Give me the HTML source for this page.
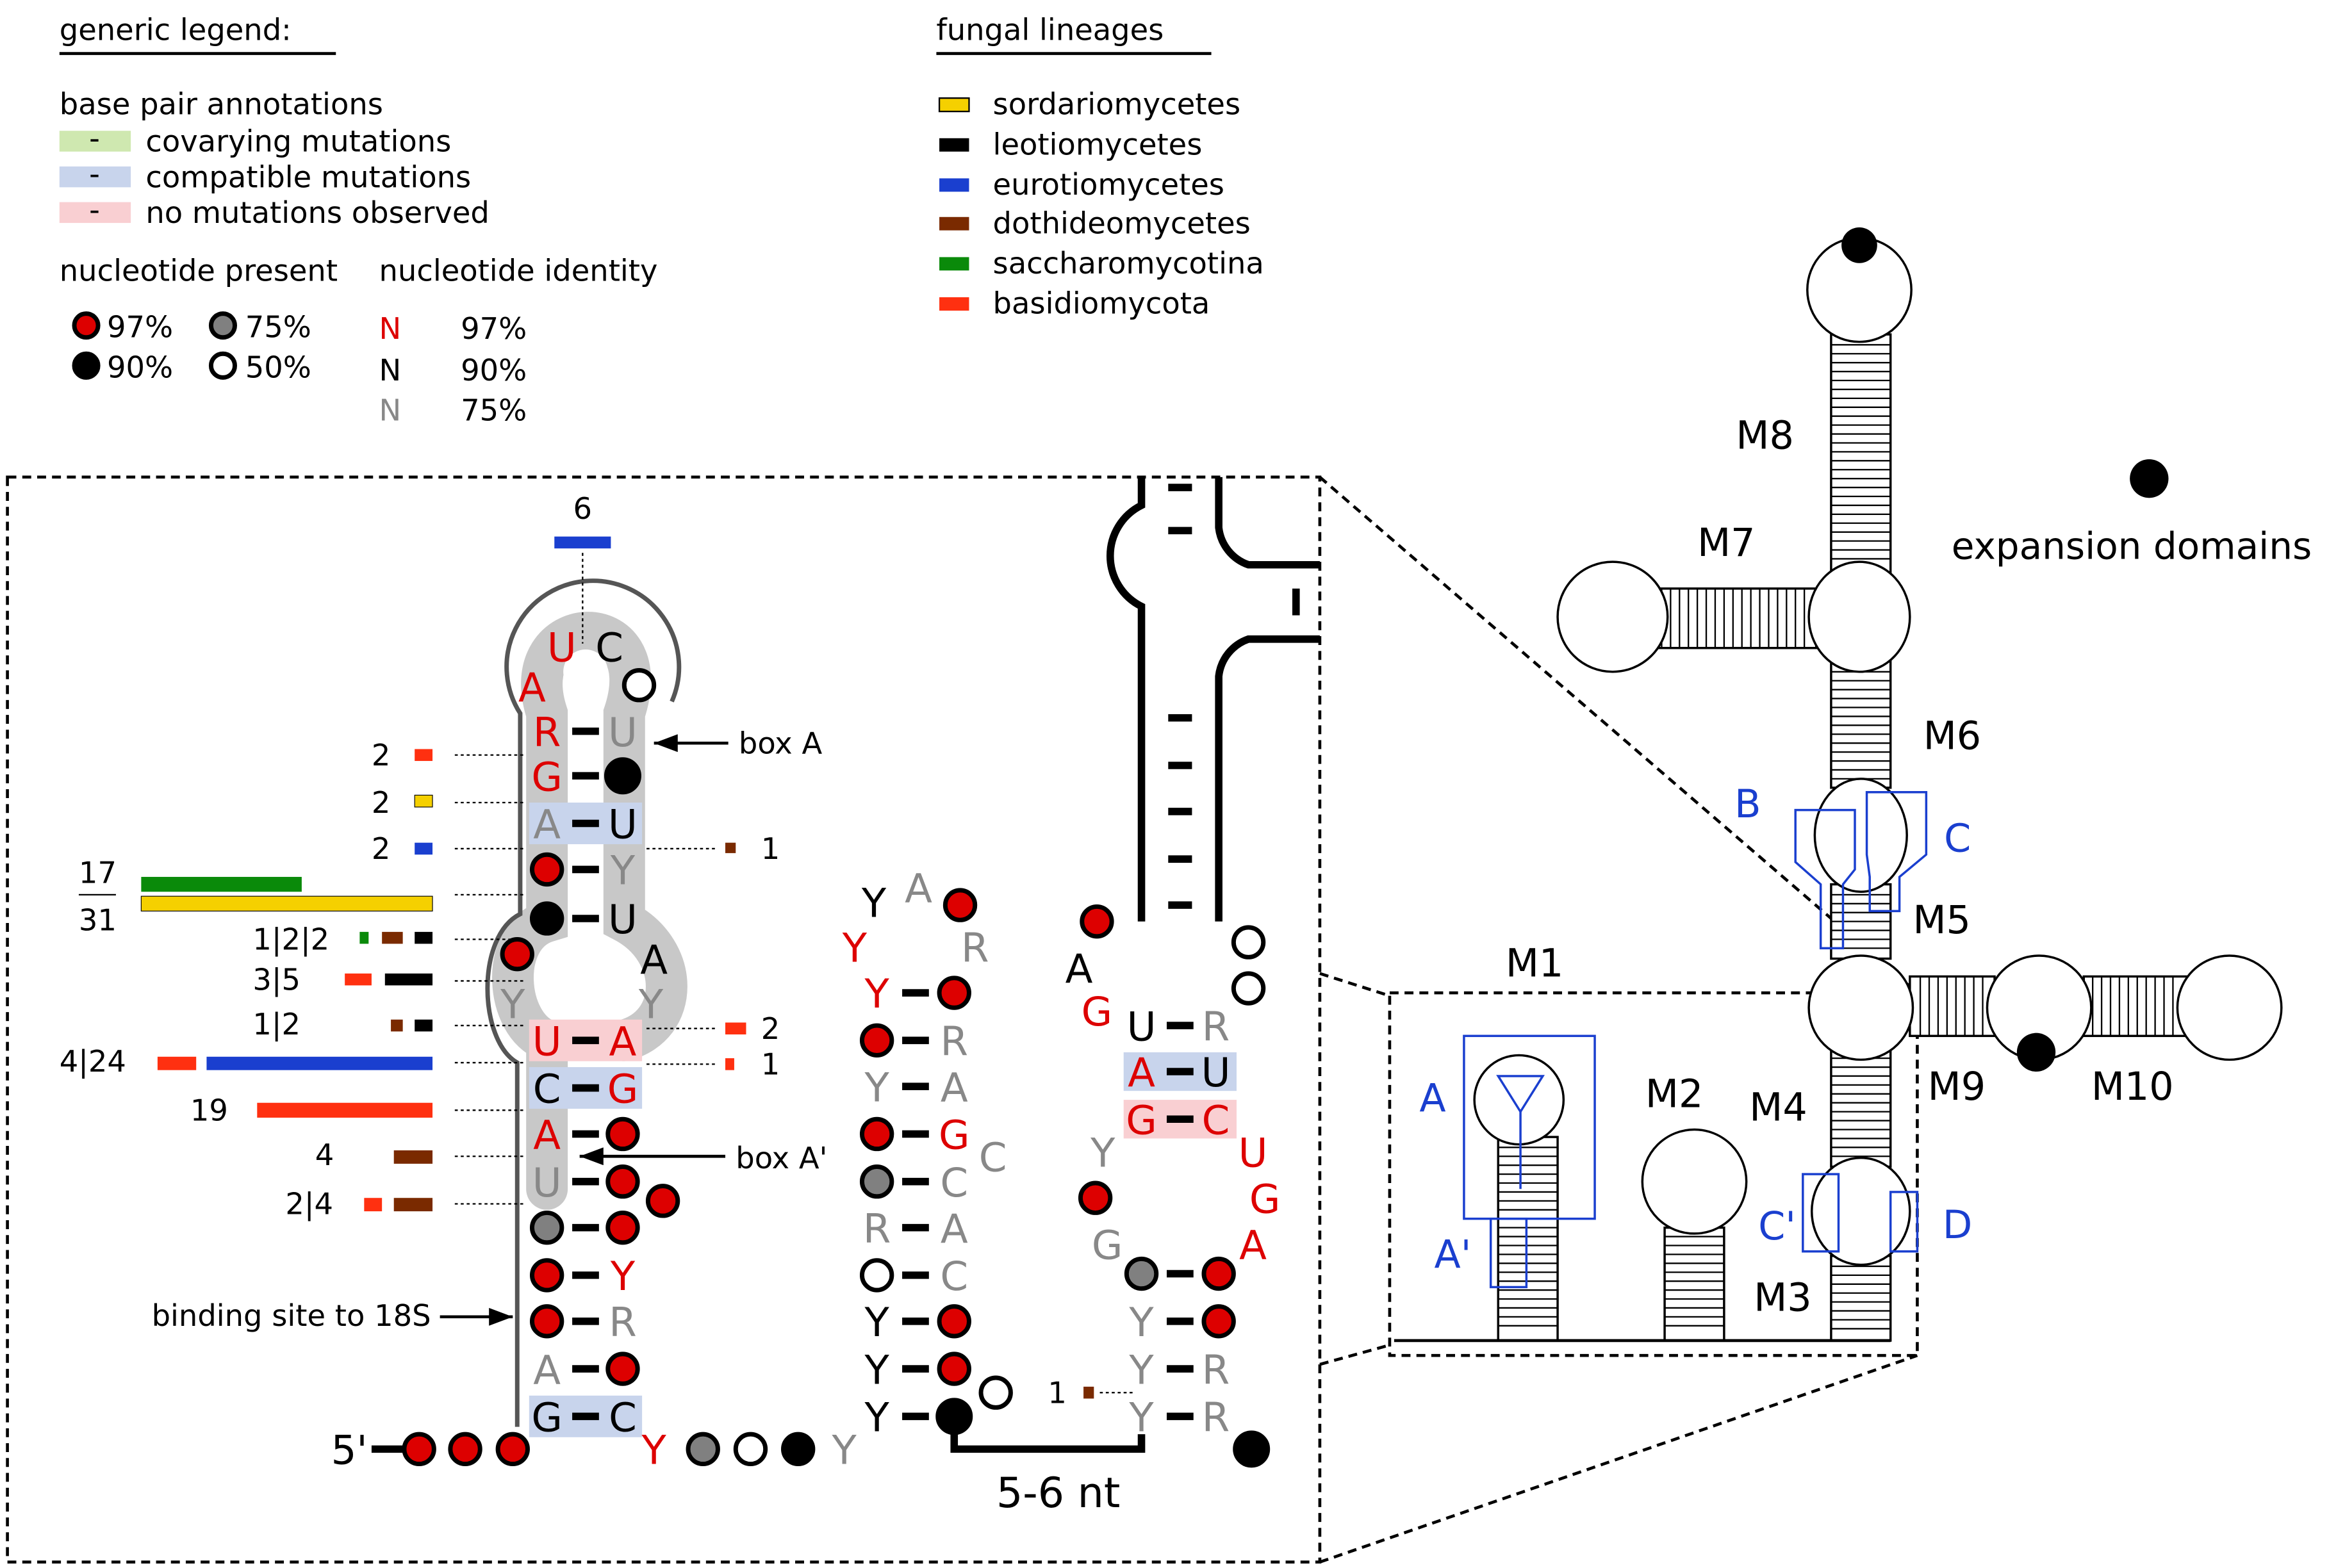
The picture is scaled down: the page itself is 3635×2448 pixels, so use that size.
<!DOCTYPE html>
<html><head><meta charset="utf-8"><style>
html,body{margin:0;padding:0;background:#fff}
svg{display:block}
text{font-family:"DejaVu Sans","Liberation Sans",sans-serif}
.n{font-size:27px;text-anchor:middle}
.l{font-size:20px}
.r{fill:#dd0000}.g{fill:#888}
.cr{fill:#dd0000;stroke:#000;stroke-width:3}
.ck{fill:#000;stroke:#000;stroke-width:3}
.cg{fill:#808080;stroke:#000;stroke-width:3}
.cw{fill:#fff;stroke:#000;stroke-width:3}
.d{stroke:#000;stroke-width:5}
.dot{stroke:#000;stroke-width:1;stroke-dasharray:2,2;fill:none}
.bl{fill:#1a3fcf;font-size:26px}
.m{font-size:26px}
</style></head><body>
<svg width="3635" height="2448" viewBox="0 0 1567 1055" preserveAspectRatio="none" xmlns="http://www.w3.org/2000/svg">
<defs><marker id="ar" markerWidth="8" markerHeight="6" refX="8" refY="3" orient="auto"><path d="M0,0 L8,3 L0,6z" fill="#000"/></marker></defs>
<!-- legend -->
<text x="40" y="27" class="l">generic legend:</text><line x1="40" y1="36" x2="226" y2="36" stroke="#000" stroke-width="2"/>
<text x="40" y="77" class="l">base pair annotations</text>
<rect x="40" y="88" width="48" height="14" fill="#cfe8b0"/><text x="60" y="100" class="l">-</text><text x="98" y="102" class="l">covarying mutations</text>
<rect x="40" y="112" width="48" height="14" fill="#c8d4ec"/><text x="60" y="124" class="l">-</text><text x="98" y="126" class="l">compatible mutations</text>
<rect x="40" y="136" width="48" height="14" fill="#f9cfd2"/><text x="60" y="148" class="l">-</text><text x="98" y="150" class="l">no mutations observed</text>
<text x="40" y="189" class="l">nucleotide present</text><text x="255" y="189" class="l">nucleotide identity</text>
<circle cx="58" cy="219" r="8" class="cr"/><text x="72" y="227" class="l">97%</text>
<circle cx="150" cy="219" r="8" class="cg"/><text x="165" y="227" class="l">75%</text>
<circle cx="58" cy="246" r="8" class="ck"/><text x="72" y="254" class="l">90%</text>
<circle cx="150" cy="246" r="8" class="cw"/><text x="165" y="254" class="l">50%</text>
<text x="255" y="228" class="l r">N</text><text x="310" y="228" class="l">97%</text>
<text x="255" y="256" class="l">N</text><text x="310" y="256" class="l">90%</text>
<text x="255" y="283" class="l g">N</text><text x="310" y="283" class="l">75%</text>
<text x="630" y="27" class="l">fungal lineages</text><line x1="630" y1="36" x2="815" y2="36" stroke="#000" stroke-width="2"/>
<rect x="632" y="66" width="20" height="9" fill="#f5d000" stroke="#000"/><text x="668" y="77" class="l">sordariomycetes</text>
<rect x="632" y="93" width="20" height="9" fill="#000"/><text x="668" y="104" class="l">leotiomycetes</text>
<rect x="632" y="120" width="20" height="9" fill="#1a3fcf"/><text x="668" y="131" class="l">eurotiomycetes</text>
<rect x="632" y="146" width="20" height="9" fill="#7a2a00"/><text x="668" y="157" class="l">dothideomycetes</text>
<rect x="632" y="173" width="20" height="9" fill="#0a8a0a"/><text x="668" y="184" class="l">saccharomycotina</text>
<rect x="632" y="200" width="20" height="9" fill="#ff3010"/><text x="668" y="211" class="l">basidiomycota</text>
<!-- dashed boxes -->
<g fill="none" stroke="#000" stroke-width="2" stroke-dasharray="6,4">
<rect x="5" y="321" width="883" height="730"/>
<line x1="888" y1="321" x2="1290" y2="668"/><line x1="888" y1="1051" x2="1290" y2="912"/>
<line x1="888" y1="655" x2="935" y2="670"/><line x1="888" y1="918" x2="935" y2="905"/>
<rect x="935" y="668" width="355" height="244"/>
</g>
<!-- right overview -->
<g fill="#fff" stroke="#000" stroke-width="1.5">
<rect x="1232" y="225" width="40" height="160"/>
<g stroke-width="1"><path d="M1232,232H1272M1232,238H1272M1232,244H1272M1232,250H1272M1232,256H1272M1232,262H1272M1232,268H1272M1232,274H1272M1232,280H1272M1232,286H1272M1232,292H1272M1232,298H1272M1232,304H1272M1232,310H1272M1232,316H1272M1232,322H1272M1232,328H1272M1232,334H1272M1232,340H1272M1232,346H1272M1232,352H1272M1232,358H1272M1232,364H1272M1232,370H1272M1232,376H1272"/></g>
<circle cx="1251" cy="195" r="35"/>
<rect x="1112" y="396" width="110" height="40"/>
<g stroke-width="1"><path d="M1118,396V436M1124,396V436M1130,396V436M1136,396V436M1142,396V436M1148,396V436M1154,396V436M1160,396V436M1166,396V436M1172,396V436M1178,396V436M1184,396V436M1190,396V436M1196,396V436M1202,396V436M1208,396V436M1214,396V436"/></g>
<circle cx="1085" cy="415" r="37"/>
<rect x="1232" y="445" width="40" height="85"/>
<g stroke-width="1"><path d="M1232,452H1272M1232,458H1272M1232,464H1272M1232,470H1272M1232,476H1272M1232,482H1272M1232,488H1272M1232,494H1272M1232,500H1272M1232,506H1272M1232,512H1272M1232,518H1272M1232,524H1272"/></g>
<ellipse cx="1251" cy="415" rx="34" ry="37"/>
<rect x="1232" y="595" width="40" height="50"/>
<g stroke-width="1"><path d="M1232,602H1272M1232,608H1272M1232,614H1272M1232,620H1272M1232,626H1272M1232,632H1272M1232,638H1272"/></g>
<ellipse cx="1252" cy="562" rx="31" ry="38"/>
<rect x="1232" y="705" width="40" height="80"/>
<g stroke-width="1"><path d="M1232,712H1272M1232,718H1272M1232,724H1272M1232,730H1272M1232,736H1272M1232,742H1272M1232,748H1272M1232,754H1272M1232,760H1272M1232,766H1272M1232,772H1272M1232,778H1272"/></g>
<rect x="1232" y="845" width="40" height="57"/>
<g stroke-width="1"><path d="M1232,852H1272M1232,858H1272M1232,864H1272M1232,870H1272M1232,876H1272M1232,882H1272M1232,888H1272M1232,894H1272"/></g>
<ellipse cx="1252" cy="815" rx="33" ry="36"/>
<rect x="1285" y="657" width="57" height="40"/>
<g stroke-width="1"><path d="M1292,657V697M1298,657V697M1304,657V697M1310,657V697M1316,657V697M1322,657V697M1328,657V697M1334,657V697"/></g>
<rect x="1402" y="657" width="70" height="40"/>
<g stroke-width="1"><path d="M1408,657V697M1414,657V697M1420,657V697M1426,657V697M1432,657V697M1438,657V697M1444,657V697M1450,657V697M1456,657V697M1462,657V697"/></g>
<circle cx="1252" cy="678" r="35"/>
<circle cx="1372" cy="678" r="35"/>
<circle cx="1500" cy="678" r="35"/>
<rect x="1008" y="765" width="40" height="137"/>
<g stroke-width="1"><path d="M1008,772H1048M1008,778H1048M1008,784H1048M1008,790H1048M1008,796H1048M1008,802H1048M1008,808H1048M1008,814H1048M1008,820H1048M1008,826H1048M1008,832H1048M1008,838H1048M1008,844H1048M1008,850H1048M1008,856H1048M1008,862H1048M1008,868H1048M1008,874H1048M1008,880H1048M1008,886H1048M1008,892H1048"/></g>
<circle cx="1022" cy="740" r="30"/>
<rect x="1120" y="826" width="40" height="76"/>
<g stroke-width="1"><path d="M1120,832H1160M1120,838H1160M1120,844H1160M1120,850H1160M1120,856H1160M1120,862H1160M1120,868H1160M1120,874H1160M1120,880H1160M1120,886H1160M1120,892H1160"/></g>
<circle cx="1140" cy="795" r="35"/>
</g>
<line x1="938" y1="902" x2="1272" y2="902" stroke="#000" stroke-width="2"/>
<circle cx="1251" cy="165" r="12"/><circle cx="1370" cy="708" r="13"/><circle cx="1446" cy="322" r="13"/>
<text x="1313" y="376" font-size="25">expansion domains</text>
<text x="1168" y="302" class="m">M8</text><text x="1142" y="374" class="m">M7</text><text x="1294" y="504" class="m">M6</text>
<text x="1287" y="628" class="m">M5</text><text x="1297" y="740" class="m">M9</text><text x="1407" y="740" class="m">M10</text>
<text x="1177" y="754" class="m">M4</text><text x="1180" y="882" class="m">M3</text><text x="1013" y="657" class="m">M1</text><text x="1107" y="745" class="m">M2</text>
<g fill="none" stroke="#1a3fcf" stroke-width="1.5">
<rect x="985" y="697" width="88" height="123"/><rect x="1003" y="820" width="24" height="46"/>
<path d="M1008,724H1038L1023,748Z"/><path d="M1023,748V800"/>
<path d="M1208,545H1248V585L1240,595V638H1225V595L1208,580Z"/>
<path d="M1256,533H1296V575L1278,590V613H1258V590L1256,575Z"/>
<rect x="1213" y="790" width="24" height="52"/><rect x="1272" y="802" width="18" height="40"/>
</g>
<text x="1167" y="550" class="bl">B</text><text x="1308" y="573" class="bl">C</text><text x="955" y="748" class="bl">A</text>
<text x="965" y="853" class="bl">A'</text><text x="1183" y="834" class="bl">C'</text><text x="1307" y="833" class="bl">D</text>
<!-- left hairpin -->
<path d="M368,800 L368,700 C340,690 335,630 368,620 L368,480 C345,410 445,405 420,480 L420,620 C458,640 458,690 420,700" fill="none" stroke="#c8c8c8" stroke-width="28" stroke-linecap="round"/>
<circle cx="394" cy="452" r="15" fill="#fff"/><circle cx="394" cy="660" r="30" fill="#fff"/>
<path d="M348,960 V715 C322,700 320,630 350,615 V480 A58,58 0 1 1 452,472" fill="none" stroke="#555" stroke-width="3"/>
<rect x="356" y="540" width="76" height="28" fill="#c8d4ec"/>
<rect x="356" y="686" width="76" height="28" fill="#f9cfd2"/>
<rect x="356" y="718" width="76" height="28" fill="#c8d4ec"/>
<rect x="356" y="939" width="76" height="28" fill="#c8d4ec"/>
<g class="d"><path d="M385,492H403M385,522H403M385,554H403M385,585H403M385,618H403M385,700H403M385,732H403M385,763H403M385,795H403M385,826H403M385,858H403M385,889H403M385,921H403M385,953H403"/></g>
<text x="378" y="445" class="n r">U</text><text x="410" y="445" class="n">C</text><circle cx="430" cy="461" r="10" class="cw"/>
<text x="358" y="472" class="n r">A</text>
<text x="368" y="502" class="n r">R</text><text x="419" y="502" class="n g">U</text>
<text x="368" y="532" class="n r">G</text><circle cx="419" cy="522" r="11" class="ck"/>
<text x="368" y="564" class="n g">A</text><text x="419" y="564" class="n">U</text>
<circle cx="368" cy="585" r="10" class="cr"/><text x="419" y="595" class="n g">Y</text>
<circle cx="368" cy="618" r="10" class="ck"/><text x="419" y="628" class="n">U</text>
<circle cx="348" cy="642" r="10" class="cr"/><text x="440" y="655" class="n">A</text>
<text x="345" y="685" class="n g">Y</text><text x="438" y="685" class="n g">Y</text>
<text x="368" y="710" class="n r">U</text><text x="419" y="710" class="n r">A</text>
<text x="368" y="742" class="n">C</text><text x="419" y="742" class="n r">G</text>
<text x="368" y="773" class="n r">A</text><circle cx="419" cy="763" r="10" class="cr"/>
<text x="368" y="805" class="n g">U</text><circle cx="419" cy="795" r="10" class="cr"/><circle cx="446" cy="808" r="10" class="cr"/>
<circle cx="368" cy="826" r="10" class="cg"/><circle cx="419" cy="826" r="10" class="cr"/>
<circle cx="368" cy="858" r="10" class="cr"/><text x="419" y="868" class="n r">Y</text>
<circle cx="368" cy="889" r="10" class="cr"/><text x="419" y="899" class="n g">R</text>
<text x="368" y="931" class="n g">A</text><circle cx="419" cy="921" r="10" class="cr"/>
<text x="368" y="963" class="n">G</text><text x="419" y="963" class="n">C</text>
<text x="235" y="985" class="n">5'</text><line x1="250" y1="975" x2="272" y2="975" class="d"/>
<circle cx="282" cy="975" r="10" class="cr"/><circle cx="313" cy="975" r="10" class="cr"/><circle cx="345" cy="975" r="10" class="cr"/>
<text x="440" y="985" class="n r">Y</text><circle cx="473" cy="975" r="10" class="cg"/><circle cx="505" cy="975" r="10" class="cw"/><circle cx="537" cy="975" r="10" class="ck"/><text x="568" y="985" class="n g">Y</text>
<!-- annotations left -->
<text x="392" y="349" class="l" text-anchor="middle">6</text><rect x="373" y="361" width="38" height="8" fill="#1a3fcf"/>
<line x1="392" y1="372" x2="392" y2="433" class="dot"/>
<g class="dot"><path d="M306,508H352M306,540H352M306,571H352M306,602H352M306,632H352M306,660H352M306,690H352M306,715H352M306,747H352M306,778H352M306,810H352M435,571H482M435,692H482M435,716H482"/></g>
<text x="250" y="515" class="l">2</text><rect x="279" y="504" width="12" height="8" fill="#ff3010"/>
<text x="250" y="547" class="l">2</text><rect x="279" y="535" width="12" height="8" fill="#f5d000" stroke="#000" stroke-width=".5"/>
<text x="250" y="578" class="l">2</text><rect x="279" y="567" width="12" height="8" fill="#1a3fcf"/>
<text x="53" y="594" class="l">17</text><line x1="53" y1="602" x2="78" y2="602" stroke="#000"/><text x="53" y="626" class="l">31</text>
<rect x="95" y="590" width="108" height="10" fill="#0a8a0a"/><rect x="95" y="603" width="196" height="10" fill="#f5d000" stroke="#000" stroke-width=".5"/>
<text x="170" y="639" class="l">1|2|2</text><rect x="242" y="627" width="6" height="8" fill="#0a8a0a"/><rect x="257" y="627" width="14" height="8" fill="#7a2a00"/><rect x="279" y="627" width="12" height="8" fill="#000"/>
<text x="170" y="666" class="l">3|5</text><rect x="232" y="655" width="18" height="8" fill="#ff3010"/><rect x="259" y="655" width="32" height="8" fill="#000"/>
<text x="170" y="696" class="l">1|2</text><rect x="263" y="686" width="8" height="8" fill="#7a2a00"/><rect x="279" y="686" width="12" height="8" fill="#000"/>
<text x="40" y="721" class="l">4|24</text><rect x="106" y="711" width="26" height="9" fill="#ff3010"/><rect x="139" y="711" width="152" height="9" fill="#1a3fcf"/>
<text x="128" y="754" class="l">19</text><rect x="173" y="742" width="118" height="10" fill="#ff3010"/>
<text x="212" y="784" class="l">4</text><rect x="265" y="774" width="26" height="9" fill="#7a2a00"/>
<text x="192" y="817" class="l">2|4</text><rect x="245" y="806" width="12" height="9" fill="#ff3010"/><rect x="265" y="806" width="26" height="9" fill="#7a2a00"/>
<rect x="488" y="567" width="7" height="7" fill="#7a2a00"/><text x="512" y="578" class="l">1</text>
<rect x="488" y="688" width="14" height="8" fill="#ff3010"/><text x="512" y="699" class="l">2</text>
<rect x="488" y="712" width="6" height="8" fill="#ff3010"/><text x="512" y="723" class="l">1</text>
<line x1="490" y1="500" x2="440" y2="500" stroke="#000" stroke-width="2" marker-end="url(#ar)"/><text x="497" y="507" class="l">box A</text>
<line x1="488" y1="778" x2="390" y2="778" stroke="#000" stroke-width="2" marker-end="url(#ar)"/><text x="495" y="786" class="l">box A'</text>
<text x="102" y="892" class="l">binding site to 18S</text><line x1="296" y1="886" x2="345" y2="886" stroke="#000" stroke-width="2" marker-end="url(#ar)"/>
<!-- middle hairpin -->
<g class="d"><path d="M607,668H625M607,700H625M607,731H625M607,763H625M607,795H625M607,826H625M607,858H625M607,889H625M607,921H625M607,953H625"/></g>
<text x="588" y="617" class="n">Y</text><text x="618" y="607" class="n g">A</text><circle cx="646" cy="609" r="10" class="cr"/>
<text x="575" y="647" class="n r">Y</text><text x="656" y="647" class="n g">R</text>
<text x="590" y="678" class="n r">Y</text><circle cx="642" cy="668" r="10" class="cr"/>
<circle cx="590" cy="700" r="10" class="cr"/><text x="642" y="710" class="n g">R</text>
<text x="590" y="741" class="n g">Y</text><text x="642" y="741" class="n g">A</text>
<circle cx="590" cy="763" r="10" class="cr"/><text x="642" y="773" class="n r">G</text><text x="668" y="788" class="n g">C</text>
<circle cx="590" cy="795" r="10" class="cg"/><text x="642" y="805" class="n g">C</text>
<text x="590" y="836" class="n g">R</text><text x="642" y="836" class="n g">A</text>
<circle cx="590" cy="858" r="10" class="cw"/><text x="642" y="868" class="n g">C</text>
<text x="590" y="899" class="n">Y</text><circle cx="642" cy="889" r="10" class="cr"/>
<text x="590" y="931" class="n">Y</text><circle cx="642" cy="921" r="10" class="cr"/><circle cx="670" cy="937" r="10" class="cw"/>
<text x="590" y="963" class="n">Y</text><circle cx="642" cy="953" r="11" class="ck"/>
<path d="M642,965 V975 H768 V965" fill="none" stroke="#000" stroke-width="5"/>
<text x="712" y="1014" font-size="28" text-anchor="middle">5-6 nt</text>
<!-- right hairpin -->
<g fill="none" stroke="#000" stroke-width="5">
<path d="M768,321 V340 A38,38 0 0 0 768,408 V620"/>
<path d="M820,321 V355 A30,30 0 0 0 840,380 H888"/>
<path d="M888,430 H840 A30,30 0 0 0 820,455 V620"/>
</g>
<g class="d"><path d="M786,328H802M786,357H802M786,483H802M786,515H802M786,546H802M786,578H802M786,609H802M872,396V414"/></g>
<rect x="756" y="708" width="76" height="26" fill="#c8d4ec"/><rect x="756" y="740" width="76" height="26" fill="#f9cfd2"/>
<g class="d"><path d="M785,690H803M785,721H803M785,753H803M785,857H803M785,889H803M785,921H803M785,953H803"/></g>
<circle cx="738" cy="620" r="10" class="cr"/><circle cx="840" cy="634" r="10" class="cw"/>
<text x="726" y="661" class="n">A</text><circle cx="840" cy="665" r="10" class="cw"/>
<text x="738" y="690" class="n r">G</text>
<text x="768" y="700" class="n">U</text><text x="818" y="700" class="n g">R</text>
<text x="768" y="731" class="n r">A</text><text x="818" y="731" class="n">U</text>
<text x="768" y="763" class="n r">G</text><text x="818" y="763" class="n r">C</text>
<text x="742" y="785" class="n g">Y</text><text x="843" y="785" class="n r">U</text>
<circle cx="737" cy="806" r="10" class="cr"/><text x="851" y="816" class="n r">G</text>
<text x="745" y="847" class="n g">G</text><text x="843" y="847" class="n r">A</text>
<circle cx="768" cy="857" r="10" class="cg"/><circle cx="820" cy="857" r="10" class="cr"/>
<text x="768" y="899" class="n g">Y</text><circle cx="820" cy="889" r="10" class="cr"/>
<text x="768" y="931" class="n g">Y</text><text x="818" y="931" class="n g">R</text>
<text x="768" y="963" class="n g">Y</text><text x="818" y="963" class="n g">R</text>
<circle cx="842" cy="975" r="11" class="ck"/>
<text x="705" y="944" class="l">1</text><rect x="729" y="933" width="7" height="8" fill="#7a2a00"/><line x1="740" y1="937" x2="762" y2="937" class="dot"/>
</svg>
</body></html>
